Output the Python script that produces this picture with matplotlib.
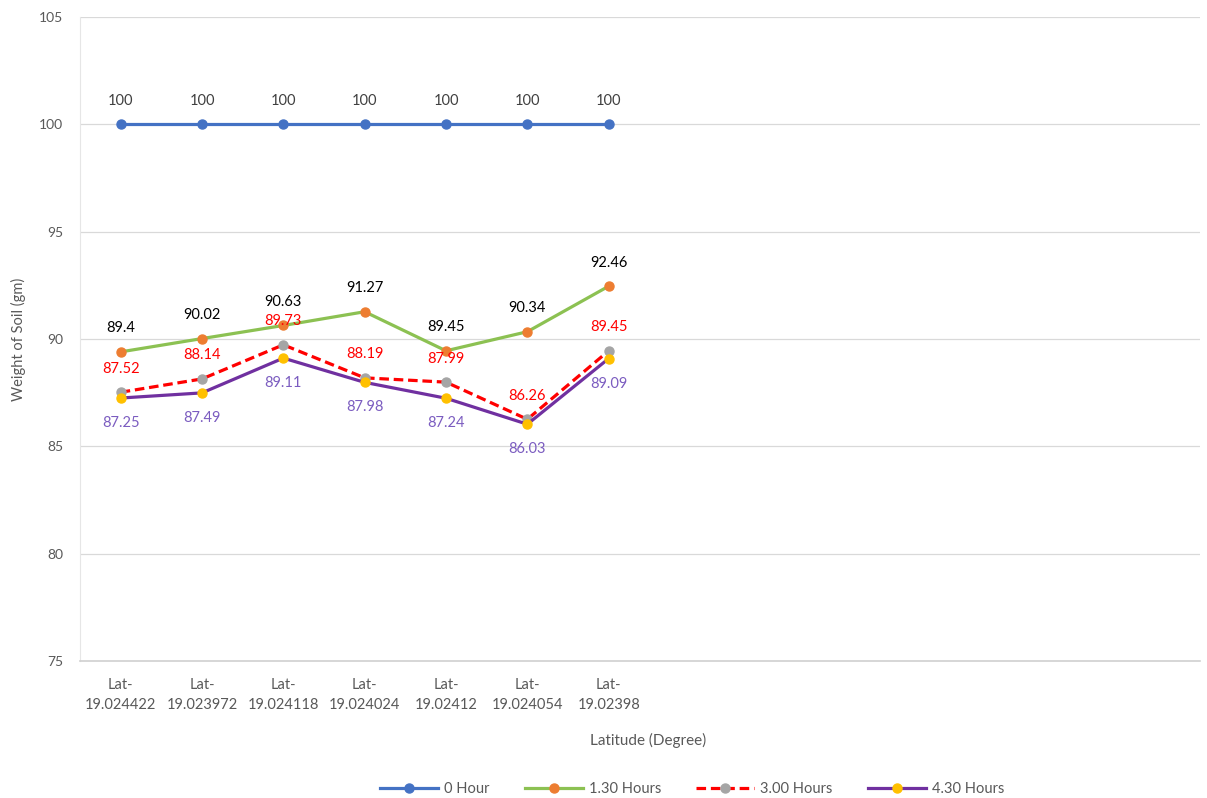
import matplotlib
matplotlib.use("Agg")
import matplotlib.pyplot as plt

plt.rcParams['font.family'] = ['Lato', 'DejaVu Sans']

categories = ["Lat-\n19.024422", "Lat-\n19.023972", "Lat-\n19.024118", "Lat-\n19.024024",
              "Lat-\n19.02412", "Lat-\n19.024054", "Lat-\n19.02398"]
hour_0 = [100, 100, 100, 100, 100, 100, 100]
hour_130 = [89.4, 90.02, 90.63, 91.27, 89.45, 90.34, 92.46]
hour_300 = [87.52, 88.14, 89.73, 88.19, 87.99, 86.26, 89.45]
hour_430 = [87.25, 87.49, 89.11, 87.98, 87.24, 86.03, 89.09]
series_names = ["0 Hour", "1.30 Hours", "3.00 Hours", "4.30 Hours"]
y_ticks = [75, 80, 85, 90, 95, 100, 105]

fig = plt.figure(figsize=(12.07, 7.98), dpi=100)
ax = fig.add_axes([80/1207, 1-661/798, (1200-80)/1207, (661-17)/798])

x = list(range(len(categories)))

styles = [
    dict(data=hour_0, color="#4472C4", mfc="#4472C4", ls="-", lab_color="#404040", off=17),
    dict(data=hour_130, color="#8CC152", mfc="#ED7D31", ls="-", lab_color="#000000", off=17),
    dict(data=hour_300, color="#FF0000", mfc="#A5A5A5", ls=(0, (3, 1.5)), lab_color="#FF0000", off=17),
    dict(data=hour_430, color="#7030A0", mfc="#FFC000", ls="-", lab_color="#7B5CC0", off=-18),
]

handles = []
for name, s in zip(series_names, styles):
    h, = ax.plot(x, s["data"], color=s["color"], lw=2.3, ls=s["ls"], marker="o",
                 markersize=6.5, markerfacecolor=s["mfc"], markeredgecolor=s["mfc"],
                 label=name, zorder=3)
    handles.append(h)
    for xi, v in zip(x, s["data"]):
        ax.annotate(f"{v:g}", (xi, v), xytext=(0, s["off"]), textcoords="offset points",
                    ha="center", va="center", fontsize=10.5, color=s["lab_color"])

ax.set_xlim(-0.5, 13.27)
ax.set_ylim(75, 105)
ax.set_yticks(y_ticks)
ax.set_xticks(x)
ax.set_xticklabels(categories, fontsize=10.5, color="#595959", linespacing=1.55)
ax.tick_params(axis="y", labelsize=10, colors="#595959", length=0, pad=12)
ax.tick_params(axis="x", length=0, pad=12)
ax.grid(axis="y", color="#D9D9D9", lw=0.9)
ax.set_axisbelow(True)
for sp in ["top", "right"]:
    ax.spines[sp].set_visible(False)
ax.spines["left"].set_color("#E6E6E6")
ax.spines["bottom"].set_color("#D0D0D0")
ax.spines["bottom"].set_linewidth(1.2)

ax.set_ylabel("Weight of Soil (gm)", fontsize=10.5, color="#595959")
ax.yaxis.set_label_coords(-0.048, 0.5)
fig.text(648/1207, 1-740/798, "Latitude (Degree)", ha="center", va="center",
         fontsize=11, color="#595959")

fig.legend(handles=handles, loc="center", bbox_to_anchor=(692/1207, 1-789/798), ncol=4,
           frameon=False, fontsize=10.5, labelcolor="#595959", handlelength=4.0,
           columnspacing=2.4, handletextpad=0.4)

fig.savefig("out.png", dpi=100)
